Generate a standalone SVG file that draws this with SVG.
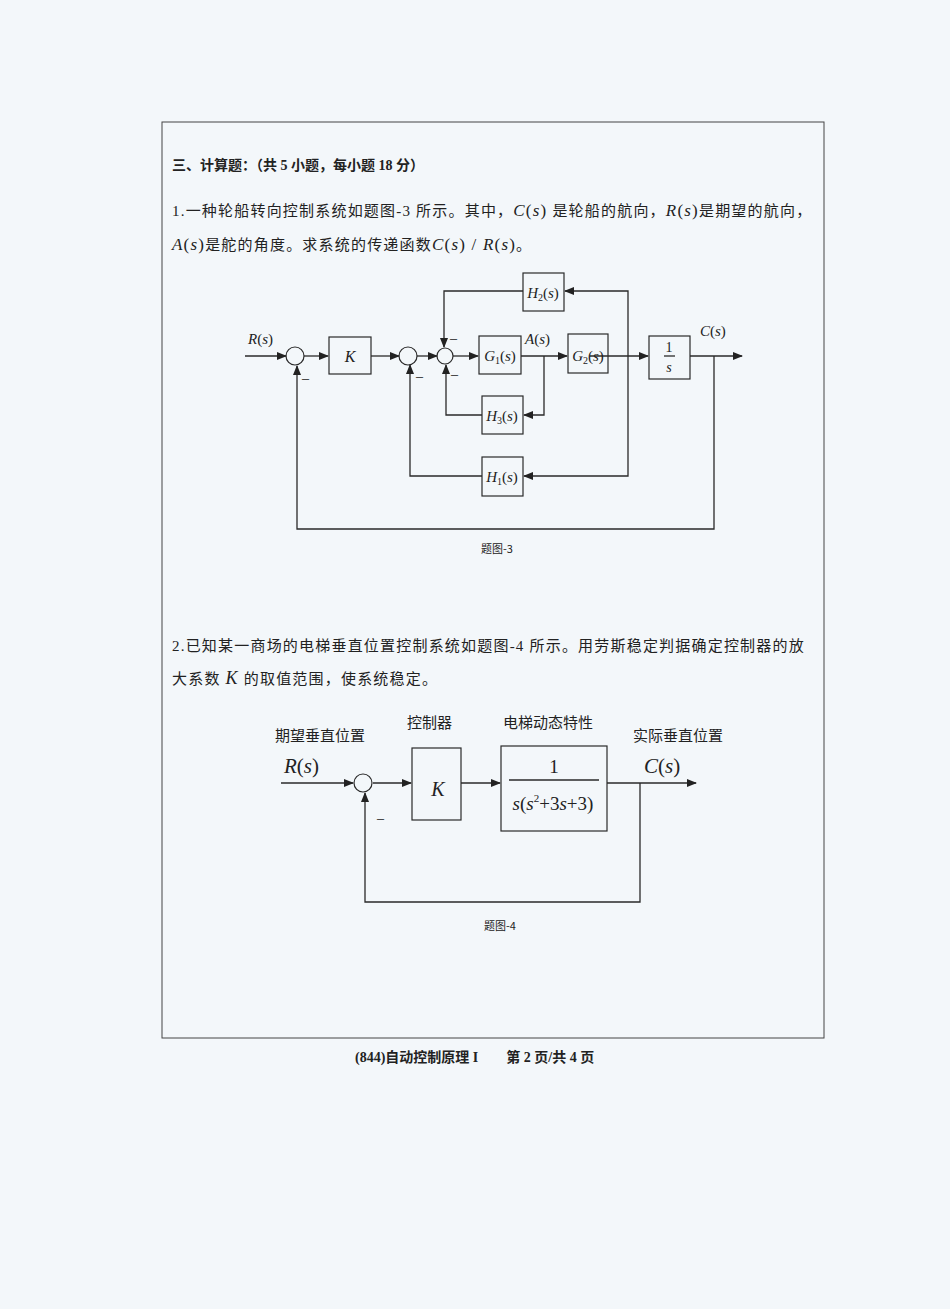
<svg xmlns="http://www.w3.org/2000/svg" width="950" height="1309" viewBox="0 0 950 1309">
<defs>
<marker id="ar" markerWidth="10" markerHeight="8" refX="9" refY="4" orient="auto" markerUnits="userSpaceOnUse"><path d="M0,0 L10,4 L0,8 Z" fill="#222"/></marker>
<style>
.ln{stroke:#2a2a2a;stroke-width:1.3;fill:none}
.bx{stroke:#2a2a2a;stroke-width:1.2;fill:none}
.t{font-family:"Liberation Serif","Noto Sans CJK SC",serif;fill:#222}
.p{font-family:"Liberation Serif","Noto Sans CJK SC",serif;fill:#222;font-size:15px;letter-spacing:1.2px}
.cn{font-family:"Noto Sans CJK SC","Liberation Sans",sans-serif;fill:#222}
.m{font-family:"Liberation Serif",serif;font-style:italic;fill:#222}
</style>
</defs>
<rect width="950" height="1309" fill="#f3f7fa"/>
<rect x="162" y="122" width="662" height="916" fill="none" stroke="#444" stroke-width="1"/>
<text class="t" x="172" y="170" font-size="14" font-weight="bold">三、计算题：（共 5 小题，每小题 18 分）</text>
<text class="p" x="172" y="216">1.一种轮船转向控制系统如题图-3 所示。其中，<tspan font-style="italic" font-size="17">C</tspan><tspan font-size="17">(</tspan><tspan font-style="italic" font-size="17">s</tspan><tspan font-size="17">)</tspan> 是轮船的航向，<tspan font-style="italic" font-size="17">R</tspan><tspan font-size="17">(</tspan><tspan font-style="italic" font-size="17">s</tspan><tspan font-size="17">)</tspan>是期望的航向，</text>
<text class="p" x="172" y="250"><tspan font-style="italic" font-size="17">A</tspan><tspan font-size="17">(</tspan><tspan font-style="italic" font-size="17">s</tspan><tspan font-size="17">)</tspan>是舵的角度。求系统的传递函数<tspan font-style="italic" font-size="17">C</tspan><tspan font-size="17">(</tspan><tspan font-style="italic" font-size="17">s</tspan><tspan font-size="17">) / </tspan><tspan font-style="italic" font-size="17">R</tspan><tspan font-size="17">(</tspan><tspan font-style="italic" font-size="17">s</tspan><tspan font-size="17">)</tspan>。</text>

<g id="connectors1">
<path class="ln" d="M245,356 H286" marker-end="url(#ar)"/>
<path class="ln" d="M304,356 H328" marker-end="url(#ar)"/>
<path class="ln" d="M371,356 H399" marker-end="url(#ar)"/>
<path class="ln" d="M417,356 H437" marker-end="url(#ar)"/>
<path class="ln" d="M453,356 H478" marker-end="url(#ar)"/>
<path class="ln" d="M521,356 H567" marker-end="url(#ar)"/>
<path class="ln" d="M590,356 H648" marker-end="url(#ar)"/>
<path class="ln" d="M690,356 H742" marker-end="url(#ar)"/>
<path class="ln" d="M544,356 V415 H524" marker-end="url(#ar)"/>
<path class="ln" d="M482,415 H446 V365" marker-end="url(#ar)"/>
<path class="ln" d="M628,356 V291 H565" marker-end="url(#ar)"/>
<path class="ln" d="M523,291 H444 V347" marker-end="url(#ar)"/>
<path class="ln" d="M628,356 V476 H524" marker-end="url(#ar)"/>
<path class="ln" d="M482,476 H410 V365" marker-end="url(#ar)"/>
<path class="ln" d="M714,356 V529 H297 V366" marker-end="url(#ar)"/>
</g>
<g id="sum1"><circle class="bx" cx="295" cy="356" r="9"/><text class="t" x="302" y="378" font-size="14">_</text></g>
<g id="sum2"><circle class="bx" cx="408" cy="356" r="9"/><text class="t" x="416" y="376" font-size="14">_</text></g>
<g id="sum3"><circle class="bx" cx="445" cy="356" r="8"/><text class="t" x="450" y="338" font-size="14">_</text><text class="t" x="451" y="374" font-size="14">_</text></g>
<g id="K1"><rect class="bx" x="329" y="337" width="42" height="37"/><text class="m" x="350" y="362" font-size="16" text-anchor="middle">K</text></g>
<g id="G1"><rect class="bx" x="479" y="336" width="42" height="38"/><text class="m" x="500" y="361" font-size="15" text-anchor="middle">G<tspan font-style="normal" font-size="10" dy="3">1</tspan><tspan font-style="normal" dy="-3">(</tspan>s<tspan font-style="normal">)</tspan></text></g>
<g id="G2"><rect class="bx" x="568" y="334" width="40" height="39"/><text class="m" x="588" y="361" font-size="15" text-anchor="middle">G<tspan font-style="normal" font-size="10" dy="3">2</tspan><tspan font-style="normal" dy="-3">(</tspan>s<tspan font-style="normal">)</tspan></text></g>
<g id="integ"><rect class="bx" x="649" y="336" width="41" height="43"/><text class="t" x="669" y="352" font-size="14" text-anchor="middle">1</text><line class="ln" x1="664" y1="356" x2="675" y2="356"/><text class="m" x="669" y="372" font-size="14" text-anchor="middle">s</text></g>
<g id="H2"><rect class="bx" x="523" y="273" width="41" height="38"/><text class="m" x="543" y="298" font-size="15" text-anchor="middle">H<tspan font-style="normal" font-size="10" dy="3">2</tspan><tspan font-style="normal" dy="-3">(</tspan>s<tspan font-style="normal">)</tspan></text></g>
<g id="H3"><rect class="bx" x="482" y="396" width="41" height="38"/><text class="m" x="502" y="421" font-size="15" text-anchor="middle">H<tspan font-style="normal" font-size="10" dy="3">3</tspan><tspan font-style="normal" dy="-3">(</tspan>s<tspan font-style="normal">)</tspan></text></g>
<g id="H1"><rect class="bx" x="482" y="457" width="41" height="39"/><text class="m" x="502" y="482" font-size="15" text-anchor="middle">H<tspan font-style="normal" font-size="10" dy="3">1</tspan><tspan font-style="normal" dy="-3">(</tspan>s<tspan font-style="normal">)</tspan></text></g>
<g id="labels1">
<text class="m" x="248" y="344" font-size="15">R<tspan font-style="normal">(</tspan>s<tspan font-style="normal">)</tspan></text>
<text class="m" x="525" y="344" font-size="15">A<tspan font-style="normal">(</tspan>s<tspan font-style="normal">)</tspan></text>
<text class="m" x="700" y="336" font-size="15">C<tspan font-style="normal">(</tspan>s<tspan font-style="normal">)</tspan></text>
<text class="cn" x="497" y="553" font-size="11" text-anchor="middle">题图-3</text>
</g>

<text class="p" x="172" y="651">2.已知某一商场的电梯垂直位置控制系统如题图-4 所示。用劳斯稳定判据确定控制器的放</text>
<text class="p" x="172" y="684">大系数 <tspan font-style="italic" font-size="18">K</tspan> 的取值范围，使系统稳定。</text>

<g id="connectors2">
<path class="ln" d="M281,783 H353" marker-end="url(#ar)"/>
<path class="ln" d="M373,783 H411" marker-end="url(#ar)"/>
<path class="ln" d="M461,783 H500" marker-end="url(#ar)"/>
<path class="ln" d="M607,783 H696" marker-end="url(#ar)"/>
<path class="ln" d="M640,783 V902 H365 V793" marker-end="url(#ar)"/>
</g>
<g id="sum4"><circle class="bx" cx="363" cy="783" r="9"/><text class="t" x="377" y="818" font-size="14">_</text></g>
<g id="K2"><rect class="bx" x="412" y="748" width="49" height="72"/><text class="m" x="438" y="796" font-size="20" text-anchor="middle">K</text></g>
<g id="plant"><rect class="bx" x="501" y="746" width="106" height="85"/><text class="t" x="554" y="773" font-size="19" text-anchor="middle">1</text><line class="ln" x1="509" y1="780" x2="599" y2="780"/><text class="m" x="553" y="810" font-size="19" text-anchor="middle">s<tspan font-style="normal">(</tspan>s<tspan font-style="normal" font-size="11" dy="-8">2</tspan><tspan font-style="normal" dy="8">+3</tspan>s<tspan font-style="normal">+3)</tspan></text></g>
<g id="labels2">
<text class="cn" x="275" y="741" font-size="15">期望垂直位置</text>
<text class="cn" x="407" y="728" font-size="15">控制器</text>
<text class="cn" x="503" y="728" font-size="15">电梯动态特性</text>
<text class="cn" x="633" y="741" font-size="15">实际垂直位置</text>
<text class="m" x="284" y="773" font-size="21">R<tspan font-style="normal">(</tspan>s<tspan font-style="normal">)</tspan></text>
<text class="m" x="644" y="773" font-size="21">C<tspan font-style="normal">(</tspan>s<tspan font-style="normal">)</tspan></text>
<text class="cn" x="500" y="930" font-size="11" text-anchor="middle">题图-4</text>
</g>
<text class="t" x="355" y="1062" font-size="14" font-weight="bold">(844)自动控制原理 I<tspan dx="28">第 2 页/共 4 页</tspan></text>
</svg>
